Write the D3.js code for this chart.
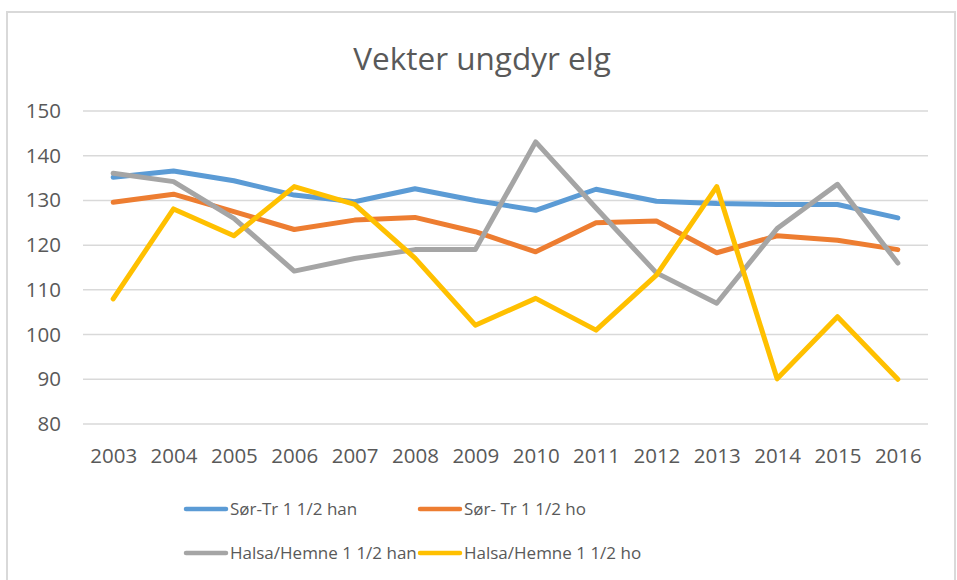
<!DOCTYPE html>
<html>
<head>
<meta charset="utf-8">
<script src="https://cdn.jsdelivr.net/npm/d3@7"></script>
<style>
  body { margin: 0; background: #fff; }
  text { font-family: "Open Sans", sans-serif; fill: #595959; }
</style>
</head>
<body>
<script>
//W and H
var w = 957;
var h = 580;

//data
var years = ["2003", "2004", "2005", "2006", "2007", "2008", "2009",
             "2010", "2011", "2012", "2013", "2014", "2015", "2016"];
var yTicks = [80, 90, 100, 110, 120, 130, 140, 150];
var serieNames = ["Sør-Tr 1 1/2 han", "Sør- Tr 1 1/2 ho",
                  "Halsa/Hemne 1 1/2 han", "Halsa/Hemne 1 1/2 ho"];
var sorTrHan = [135.2, 136.6, 134.4, 131.2, 129.7, 132.6, 130.0,
                127.8, 132.5, 129.8, 129.3, 129.1, 129.1, 126.1];
var sorTrHo = [129.6, 131.4, 127.5, 123.5, 125.6, 126.2, 123.0,
               118.5, 125.0, 125.4, 118.3, 122.1, 121.1, 119.0];
var halsaHan = [136.1, 134.2, 126.0, 114.2, 117.0, 119.0, 119.0,
                143.1, 128.3, 113.8, 107.0, 123.7, 133.6, 116.0];
var halsaHo = [108.0, 128.1, 122.1, 133.1, 129.1, 117.1, 102.1,
               108.1, 101.0, 113.3, 133.1, 90.1, 104.0, 90.0];
var colors = ["#5b9bd5", "#ed7d31", "#a5a5a5", "#ffc000"];

var series = [sorTrHan, sorTrHo, halsaHan, halsaHo];

var svg = d3.select("body")
    .append("svg")
    .attr("width", w)
    .attr("height", h);

//chart frame
svg.append("rect")
    .attr("x", 7)
    .attr("y", 12)
    .attr("width", 948)
    .attr("height", 580)
    .attr("fill", "none")
    .attr("stroke", "#d9d9d9")
    .attr("stroke-width", 2);

//scales
var x = d3.scalePoint()
    .domain(years)
    .range([83, 928])
    .padding(0.5);

var y = d3.scaleLinear()
    .domain([80, 150])
    .range([424, 111]);

//gridlines
svg.append("g")
    .selectAll("line")
    .data(yTicks)
    .enter()
    .append("line")
    .attr("x1", 83)
    .attr("x2", 928)
    .attr("y1", function(d) { return y(d); })
    .attr("y2", function(d) { return y(d); })
    .attr("stroke", "#d9d9d9")
    .attr("stroke-width", 1.5);

//axes
var yAxis = d3.axisLeft(y)
    .tickValues(yTicks)
    .tickSize(0)
    .tickPadding(0);

var yg = svg.append("g")
    .attr("transform", "translate(61,0)")
    .call(yAxis);
yg.select(".domain").remove();
yg.selectAll("text")
    .attr("font-size", 20.5)
    .attr("font-family", null)
    .attr("fill", "#595959");

var xAxis = d3.axisBottom(x)
    .tickSize(0)
    .tickPadding(0);

var xg = svg.append("g")
    .attr("transform", "translate(0,448)")
    .call(xAxis);
xg.select(".domain").remove();
xg.selectAll("text")
    .attr("font-size", 20.5)
    .attr("font-family", null)
    .attr("fill", "#595959");

//lines
var line = d3.line()
    .x(function(d, i) { return x(years[i]); })
    .y(function(d) { return y(d); });

svg.append("g")
    .selectAll("path")
    .data(series)
    .enter()
    .append("path")
    .attr("d", line)
    .attr("fill", "none")
    .attr("stroke", function(d, i) { return colors[i]; })
    .attr("stroke-width", 5)
    .attr("stroke-linejoin", "round")
    .attr("stroke-linecap", "round");

//title
svg.append("text")
    .attr("x", 482)
    .attr("y", 70)
    .attr("text-anchor", "middle")
    .attr("font-size", 31.5)
    .text("Vekter ungdyr elg");

//legend
var legend = svg.append("g")
    .selectAll("g")
    .data(serieNames)
    .enter()
    .append("g")
    .attr("transform", function(d, i) {
        return "translate(" + (i % 2 === 0 ? 185 : 419) + "," + (i < 2 ? 509 : 553) + ")";
    });

legend.append("line")
    .attr("x1", 1)
    .attr("x2", 41)
    .attr("stroke", function(d, i) { return colors[i]; })
    .attr("stroke-width", 4.5)
    .attr("stroke-linecap", "round");

legend.append("text")
    .attr("x", 45)
    .attr("dy", "0.35em")
    .attr("font-size", 17)
    .text(function(d) { return d; });
</script>
</body>
</html>
